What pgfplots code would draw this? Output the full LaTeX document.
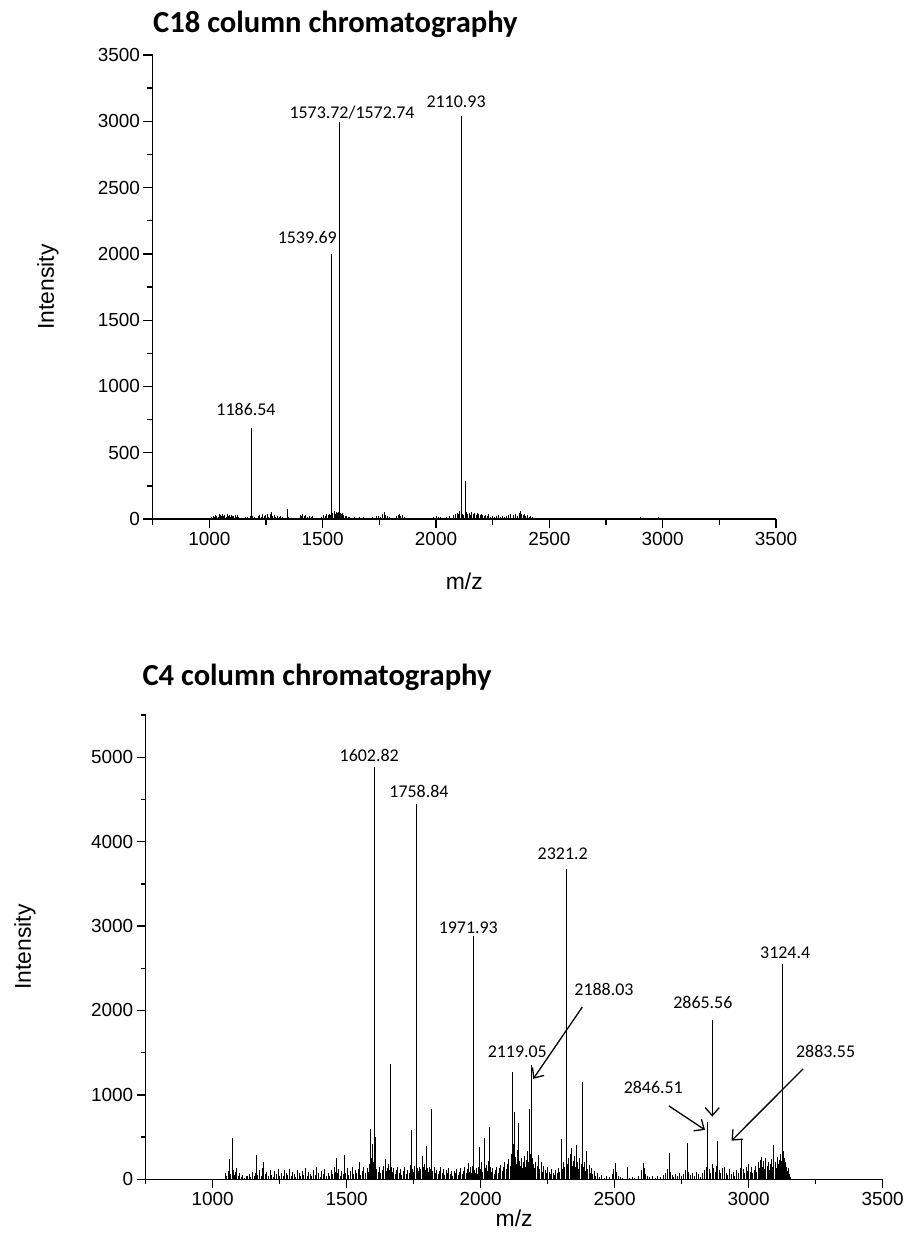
\documentclass[border=0pt]{standalone}
\usepackage{pgfplots}
\pgfplotsset{compat=1.18}
\usepackage{fontspec}
\setmainfont{Liberation Sans}
\newfontfamily\calibri{Carlito}
\usetikzlibrary{arrows.meta}
\tikzset{
  plab/.style={font=\calibri\fontsize{18}{21}\selectfont, inner sep=0pt, anchor=base},
  parr/.style={line width=1.3bp, -{Straight Barb[length=8bp,width=14bp]}},
}
\pgfplotsset{
  specaxis/.style={
    scale only axis, anchor=south west,
    axis lines*=left,
    axis line style={line width=1.3bp, black},
    every tick/.style={black, line width=1.3bp},
    tick align=outside,
    major tick length=9.3bp, minor tick length=6bp,
    xmin=750, xmax=3500, ymin=0,
    xtick={1000,1500,...,3500},
    minor xtick={750,1250,...,3250},
    tick label style={font=\fontsize{19}{22}\selectfont},
    /pgf/number format/assume math mode=true,
    /pgf/number format/1000 sep={},
    xlabel={m/z}, ylabel={Intensity},
    clip=false,
  },
  peak/.style={ycomb, black, line width=0.8bp, mark=none},
}
\begin{document}
\begin{tikzpicture}
\useasboundingbox (0bp,0bp) rectangle (911bp,-1233bp);
% ---------- top: C18 ----------
\node[anchor=base west, inner sep=0pt, font=\calibri\bfseries\fontsize{30.7}{35}\selectfont] at (153bp,-32bp) {C18 column chromatography};
\begin{axis}[specaxis,
  at={(152.7bp,-519bp)}, width=623.3bp, height=464bp,
  ymax=3500,
  ytick={0,500,...,3500},
  minor ytick={250,750,...,3250},
  every axis y label/.style={at={(axis description cs:-0.168,0.5)}, rotate=90, anchor=center, font=\fontsize{23}{27}\selectfont},
  every axis x label/.style={at={(axis description cs:0.5,-0.135)}, anchor=center, font=\fontsize{23}{27}\selectfont},
]
\addplot[peak] coordinates {
(1010,18) (1016,25) (1022,12) (1028,30) (1033,22) (1038,15) (1043,35) (1048,28) (1053,20) (1058,38)
(1063,25) (1068,32) (1073,18) (1078,36) (1083,22) (1088,30) (1093,15) (1098,33) (1103,25) (1108,20)
(1113,34) (1118,16) (1123,28) (1128,12) (1140,10) (1150,8) (1160,15) (1170,12) (1180,20) (1186.54,684)
(1192,25) (1200,18) (1208,10) (1215,22) (1222,30) (1228,15) (1235,38) (1242,20) (1248,28) (1255,35)
(1262,18) (1268,40) (1273,55) (1278,25) (1285,30) (1292,18) (1300,22) (1308,12) (1315,20) (1322,15)
(1330,10) (1343,72) (1350,15) (1360,8) (1370,5) (1400,30) (1405,25) (1412,35) (1418,20) (1425,28)
(1432,18) (1440,25) (1448,12) (1456,20) (1465,10) (1480,8) (1495,12) (1505,30) (1512,22) (1518,35)
(1524,28) (1530,40) (1535,30) (1539.69,1998) (1545,45) (1550,60) (1555,38) (1560,50) (1565,42) (1568,55)
(1572.74,2750) (1573.72,2996) (1578,48) (1582,35) (1587,45) (1592,30) (1598,25) (1605,20) (1612,15) (1620,12)
(1630,10) (1640,15) (1650,8) (1660,12) (1670,10) (1680,12) (1690,8) (1700,10) (1720,15) (1735,20)
(1745,25) (1755,18) (1765,35) (1772,55) (1778,30) (1785,22) (1795,15) (1805,10) (1825,20) (1832,28)
(1838,35) (1845,25) (1852,30) (1860,15) (1870,10) (1885,8) (1900,5) (1940,4) (1990,15) (2000,20)
(2010,12) (2020,18) (2035,10) (2045,15) (2060,20) (2075,28) (2085,35) (2095,45) (2100,38) (2105,60)
(2109.9,2000) (2110.93,3040) (2116,40) (2122,30) (2128,287) (2134,55) (2140,35) (2146,45) (2152,30) (2158,50)
(2164,38) (2170,45) (2176,30) (2182,42) (2188,35) (2194,28) (2200,40) (2206,32) (2212,25) (2218,30)
(2225,20) (2232,35) (2240,18) (2248,25) (2256,15) (2265,22) (2275,30) (2283,18) (2292,25) (2300,15)
(2310,20) (2320,28) (2330,35) (2340,30) (2350,40) (2358,22) (2366,45) (2372,63) (2378,40) (2384,30)
(2390,35) (2396,22) (2402,28) (2410,18) (2418,25) (2425,15) (2435,10) (2450,8) (2480,5) (2520,5)
(2560,6) (2600,8) (2650,5) (2690,10) (2720,6) (2750,8) (2800,6) (2830,8) (2880,5) (2900,15)
(2935,8) (2950,10) (2965,8) (2980,12) (2995,10) (3010,8) (3025,10) (3040,6) (3060,5)
};
\node[plab] at (axis cs:1161.7,784) {1186.54};
\node[plab] at (axis cs:1432,2079) {1539.69};
\node[plab] at (axis cs:1629.5,3020) {1573.72/1572.74};
\node[plab] at (axis cs:2088.5,3105) {2110.93};
\end{axis}
% ---------- bottom: C4 ----------
\node[anchor=base west, inner sep=0pt, font=\calibri\bfseries\fontsize{30.7}{35}\selectfont] at (142.3bp,-685bp) {C4 column chromatography};
\begin{axis}[specaxis,
  at={(145.7bp,-1179.3bp)}, width=737bp, height=464.3bp,
  ymax=5500,
  ytick={0,1000,...,5000},
  minor ytick={500,1500,...,5500},
  major tick length=9bp, minor tick length=5bp,
  every axis y label/.style={at={(axis description cs:-0.1638,0.5)}, rotate=90, anchor=center, font=\fontsize{23}{27}\selectfont},
  every axis x label/.style={at={(axis description cs:0.5,-0.0844)}, anchor=center, font=\fontsize{23}{27}\selectfont},
]
\addplot[peak] coordinates {
(1047,80) (1052,40) (1057,95) (1060,30) (1063,245) (1067,60) (1072,494) (1076,110) (1080,50) (1085,90)
(1090,130) (1095,45) (1100,70) (1106,30) (1112,55) (1118,20) (1124,45) (1130,35) (1136,60) (1142,25)
(1148,90) (1154,40) (1160,70) (1164,288) (1168,50) (1174,110) (1180,45) (1186,130) (1191,201) (1196,60)
(1202,85) (1208,40) (1214,110) (1220,55) (1226,30) (1232,95) (1238,60) (1244,120) (1250,45) (1256,80)
(1262,35) (1268,105) (1274,70) (1280,50) (1286,125) (1292,40) (1298,90) (1304,60) (1310,30) (1316,115)
(1322,75) (1328,45) (1334,100) (1340,55) (1346,130) (1352,35) (1358,85) (1364,65) (1370,40) (1376,110)
(1382,50) (1388,140) (1394,70) (1400,30) (1406,95) (1412,60) (1418,120) (1424,45) (1430,80) (1436,35)
(1442,105) (1448,60) (1454,150) (1458,90) (1462,257) (1466,70) (1470,120) (1476,45) (1482,100) (1488,65)
(1492,288) (1496,80) (1502,130) (1508,50) (1514,95) (1520,140) (1526,60) (1532,110) (1538,75) (1544,125)
(1548,205) (1552,55) (1558,100) (1564,150) (1570,70) (1576,130) (1580,90) (1584,180) (1587,597) (1590,140)
(1593,250) (1596,419) (1599,200) (1602.82,4887) (1606,160) (1608,505) (1612,120) (1617,90) (1622,140) (1627,70)
(1632,110) (1638,160) (1643,241) (1648,95) (1652,130) (1656,180) (1659,110) (1662,1364) (1666,150) (1670,90)
(1675,130) (1680,60) (1685,110) (1690,150) (1695,75) (1700,120) (1705,50) (1710,100) (1716,140) (1722,65)
(1728,110) (1734,80) (1738,170) (1741,581) (1745,120) (1750,90) (1754,160) (1758.84,4440) (1763,130) (1767,100)
(1771,150) (1776,120) (1781,280) (1785,140) (1790,180) (1794,110) (1798,395) (1802,130) (1806,90) (1810,150)
(1814,120) (1817,834) (1821,100) (1826,140) (1831,70) (1836,115) (1841,60) (1846,100) (1851,150) (1856,80)
(1861,120) (1866,55) (1871,110) (1876,75) (1881,130) (1886,60) (1891,100) (1896,45) (1901,95) (1906,70)
(1911,120) (1916,50) (1921,85) (1926,130) (1931,60) (1936,100) (1941,150) (1946,75) (1950,120) (1954,190)
(1958,90) (1962,140) (1966,70) (1969,160) (1971.93,2878) (1975,110) (1979,80) (1984,130) (1988,60) (1992,150)
(1996,380) (2000,120) (2004,200) (2008,90) (2012,494) (2016,130) (2020,170) (2024,100) (2028,220) (2031,621)
(2035,140) (2040,90) (2045,130) (2050,60) (2055,110) (2060,150) (2065,80) (2070,130) (2075,170) (2080,100)
(2085,150) (2090,200) (2095,120) (2100,180) (2105,240) (2110,160) (2114,300) (2117,220) (2119.05,1276) (2122,420)
(2125,795) (2129,260) (2133,180) (2136,350) (2139,671) (2143,220) (2147,160) (2151,250) (2155,130) (2159,200)
(2163,280) (2167,150) (2171,230) (2175,340) (2178,200) (2180,830) (2184,300) (2188.03,1356) (2192,250) (2196,180)
(2200,130) (2205,210) (2210,160) (2215,288) (2220,120) (2225,200) (2230,90) (2235,160) (2240,110) (2245,70)
(2250,140) (2255,90) (2260,60) (2265,120) (2270,80) (2275,50) (2280,110) (2285,70) (2290,130) (2295,90)
(2302,474) (2306,120) (2310,200) (2314,150) (2318,260) (2321.2,3677) (2325,180) (2329,250) (2333,130) (2336,300)
(2339,368) (2343,160) (2347,220) (2351,280) (2355,150) (2358,407) (2362,200) (2366,120) (2370,250) (2374,180)
(2379,1158) (2383,140) (2387,200) (2391,100) (2395,336) (2399,120) (2404,170) (2408,80) (2413,130) (2418,60)
(2423,100) (2428,40) (2435,70) (2442,30) (2450,50) (2460,20) (2470,35) (2480,25) (2490,60) (2495,120)
(2501,190) (2506,90) (2512,40) (2520,25) (2530,15) (2547,142) (2555,20) (2565,30) (2575,15) (2590,40)
(2600,110) (2606,190) (2611,130) (2616,60) (2622,40) (2630,25) (2640,35) (2650,20) (2660,45) (2670,30)
(2680,55) (2690,70) (2697,120) (2703,308) (2708,90) (2714,50) (2720,30) (2728,60) (2735,40) (2742,80)
(2750,35) (2757,60) (2764,110) (2771,427) (2776,90) (2782,50) (2790,70) (2797,40) (2805,90) (2812,60)
(2820,30) (2828,80) (2835,110) (2841,150) (2846.51,676) (2852,120) (2858,80) (2864,180) (2869,130) (2874,90)
(2879,160) (2885,454) (2890,110) (2896,70) (2902,130) (2910,150) (2916,80) (2922,50) (2928,120) (2935,60)
(2942,90) (2948,40) (2955,110) (2962,70) (2968,130) (2974,474) (2979,120) (2985,80) (2990,150) (2995,100)
(3000,180) (3005,90) (3010,140) (3015,70) (3020,110) (3025,160) (3030,90) (3035,200) (3040,130) (3044,230)
(3048,268) (3052,150) (3056,220) (3060,120) (3064,250) (3068,160) (3072,200) (3076,110) (3080,180) (3085,240)
(3090,150) (3094,403) (3098,200) (3102,130) (3106,260) (3110,180) (3114,230) (3118,300) (3121,220) (3124.4,2554)
(3128,340) (3132,250) (3136,200) (3140,150) (3144,100) (3148,130) (3152,60) (3155,30)
};
\node[plab] at (axis cs:1584,4954) {1602.82};
\node[plab] at (axis cs:1769.7,4519) {1758.84};
\node[plab] at (axis cs:1953.7,2910) {1971.93};
\node[plab] at (axis cs:2306,3788) {2321.2};
\node[plab] at (axis cs:2460,2174) {2188.03};
\node[plab] at (axis cs:2136.5,1447) {2119.05};
\node[plab] at (axis cs:2829,2028) {2865.56};
\node[plab] at (axis cs:3287,1447) {2883.55};
\node[plab] at (axis cs:2644,1012) {2846.51};
\node[plab] at (axis cs:3136,2610) {3124.4};
\draw[parr] (axis cs:2379,2040) -- (axis cs:2196,1190);
\draw[parr] (axis cs:2864,1890) -- (axis cs:2864,743);
\draw[parr] (axis cs:2702,870) -- (axis cs:2837,585);
\draw[parr] (axis cs:3203,1308) -- (axis cs:2936,458);
\end{axis}
\end{tikzpicture}
\end{document}
